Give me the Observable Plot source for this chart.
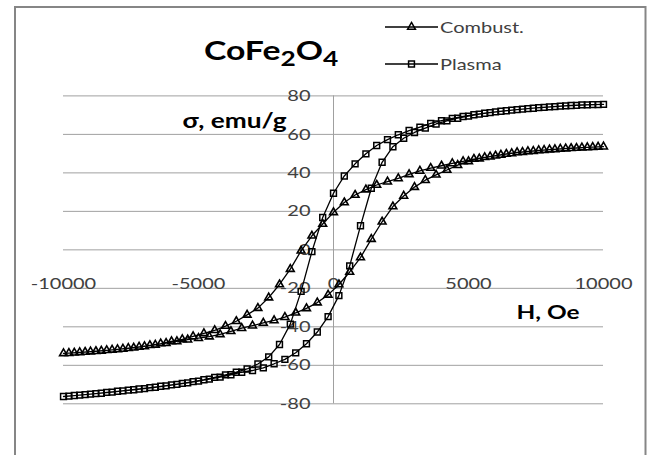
<!DOCTYPE html>
<html><head><meta charset="utf-8">
<script src="https://cdn.jsdelivr.net/npm/d3@7"></script>
<script src="https://cdn.jsdelivr.net/npm/@observablehq/plot@0.6"></script>
<style>
html,body{margin:0;padding:0;background:#fff;overflow:hidden;}
#wrap{position:relative;width:648px;height:455px;overflow:hidden;}
</style>
</head><body><div id="wrap"></div>
<script>
// ---- data ----
const seriesNames = ["Combust.", "Plasma"];
const xTicks = [-10000, -5000, 0, 5000, 10000];
const yTicks = [-80, -60, -40, -20, 0, 20, 40, 60, 80];

// descending branch (field swept from +10000 to -10000), Oe
const upperH = [10000,9600,9200,8800,8400,8000,7600,7200,6800,6400,6000,5600,5200,4800,4400,4000,3600,3200,2800,2400,2000,1600,1200,800,400,0,-400,-800,-1200,-1600,-2000,-2400,-2800,-3200,-3600,-4000,-4400,-4800,-5200,-5600,-6000,-6400,-6800,-7200,-7600,-8000,-8400,-8800,-9200,-9600,-10000];
// ascending branch (field swept from -10000 to +10000), Oe
const lowerH = [-9800,-9400,-9000,-8600,-8200,-7800,-7400,-7000,-6600,-6200,-5800,-5400,-5000,-4600,-4200,-3800,-3400,-3000,-2600,-2200,-1800,-1400,-1000,-600,-200,200,600,1000,1400,1800,2200,2600,3000,3400,3800,4200,4600,5000,5400,5800,6200,6600,7000,7400,7800,8200,8600,9000,9400,9800];

const combustUpper = [53.6,53.4,53.1,52.8,52.5,52.1,51.7,51.2,50.6,49.8,48.9,48.1,47.2,46.0,44.9,43.7,42.5,41.0,39.2,37.1,35.4,33.7,31.3,28.5,24.6,19.5,13.4,7.3,-0.5,-10.0,-18.0,-24.8,-30.3,-33.8,-37.1,-39.6,-41.8,-43.4,-45.0,-46.5,-47.6,-48.7,-49.6,-50.4,-51.1,-51.7,-52.2,-52.7,-53.1,-53.5,-53.8];
const combustLower = [-53.7,-53.3,-52.9,-52.5,-52.0,-51.5,-50.9,-50.2,-49.4,-48.5,-47.6,-46.7,-45.9,-45.1,-43.9,-42.3,-40.7,-39.4,-38.0,-36.7,-35.0,-32.7,-30.4,-27.4,-23.4,-18.0,-11.5,-4.0,5.6,14.6,22.5,28.0,32.6,36.2,39.0,41.5,44.0,46.0,47.4,48.4,49.3,50.1,50.8,51.3,51.8,52.2,52.6,52.9,53.2,53.5];
const plasmaUpper = [75.6,75.5,75.3,75.0,74.7,74.3,73.9,73.4,72.9,72.3,71.7,71.0,70.2,69.3,68.3,67.1,65.7,63.8,62.0,59.8,57.3,54.2,49.9,44.7,38.4,29.4,16.8,-0.9,-21.6,-38.6,-49.2,-55.6,-59.3,-61.9,-63.6,-65.0,-66.3,-67.5,-68.5,-69.4,-70.2,-70.9,-71.6,-72.3,-72.9,-73.5,-74.1,-74.7,-75.2,-75.7,-76.2];
const plasmaLower = [-76.0,-75.5,-75.0,-74.5,-73.9,-73.3,-72.7,-72.1,-71.4,-70.7,-69.9,-69.1,-68.2,-67.2,-66.1,-64.9,-63.6,-62.7,-61.3,-59.2,-56.9,-53.5,-48.8,-42.7,-34.7,-23.8,-8.3,12.5,32.0,45.5,53.6,58.0,61.0,63.3,65.4,67.0,68.4,69.5,70.5,71.3,72.0,72.6,73.1,73.6,74.0,74.4,74.8,75.1,75.3,75.5];

// ---- table for the library ----
function loop(name, up, low) {
  return upperH.map((h, i) => ({series: name, H: h, s: up[i]}))
    .concat(lowerH.map((h, i) => ({series: name, H: h, s: low[i]})));
}
const combust = loop(seriesNames[0], combustUpper, combustLower);
const plasma = loop(seriesNames[1], plasmaUpper, plasmaLower);

const FONT = "Lato, 'Open Sans', sans-serif";
const STRETCH = 1.25;
const GRID = "#a0a0a0";
const LABEL = "#404040";

const chart = Plot.plot({
  width: 648, height: 455,
  marginLeft: 63, marginRight: 45, marginTop: 95.4, marginBottom: 51.7,
  x: {domain: [-10000, 10000], axis: null},
  y: {domain: [-80, 80], axis: null},
  style: {fontFamily: FONT, background: "transparent", overflow: "visible"},
  marks: [
    Plot.ruleY(yTicks, {x1: xTicks[0], x2: xTicks[xTicks.length - 1], stroke: GRID, strokeWidth: 1}),
    Plot.ruleX([0], {y1: yTicks[0], y2: yTicks[yTicks.length - 1], stroke: GRID, strokeWidth: 1}),
    Plot.text(yTicks, {x: 0, y: d => d, text: d => String(d), textAnchor: "end", dx: -23, fontSize: 16, fill: LABEL}),
    Plot.text(xTicks, {x: d => d, y: 0, text: d => String(d), textAnchor: "middle", dy: 34.5, fontSize: 16, fill: LABEL}),
    Plot.line(combust, {x: "H", y: "s", z: "series", stroke: "black", strokeWidth: 1.3}),
    Plot.line(plasma, {x: "H", y: "s", z: "series", stroke: "black", strokeWidth: 1.3}),
    Plot.dot(combust, {x: "H", y: "s", symbol: "triangle", r: 2.9, stroke: "black", strokeWidth: 1.6, fill: "none"}),
    Plot.dot(plasma, {x: "H", y: "s", symbol: "square", r: 3.3, stroke: "black", strokeWidth: 1.5, fill: "none"}),
    Plot.text(["σ, emu/g"], {frameAnchor: "top-left", textAnchor: "end", lineAnchor: "bottom", dx: 223, dy: 31.6, fontSize: 21, fontWeight: "bold", fill: "black"}),
    Plot.text(["H, Oe"], {frameAnchor: "top-right", textAnchor: "end", lineAnchor: "bottom", dx: -24, dy: 222.6, fontSize: 19.5, fontWeight: "bold", fill: "black"})
  ]
});

// horizontal stretch of text (the reference glyphs are wide)
chart.querySelectorAll("text").forEach(t => {
  const tr = t.getAttribute("transform");
  if (tr) t.setAttribute("transform", tr + ` scale(${STRETCH},1)`);
});

const svg = d3.select(chart);
// outer chart border
svg.insert("rect", ":first-child")
  .attr("x", 15).attr("y", 7).attr("width", 630.5).attr("height", 470)
  .attr("fill", "none").attr("stroke", "#868686").attr("stroke-width", 2);

// title CoFe2O4
const title = svg.append("text")
  .attr("transform", `translate(204,60) scale(${STRETCH},1)`)
  .attr("text-anchor", "start")
  .attr("font-family", FONT).attr("font-weight", "bold").attr("font-size", 27).attr("fill", "black");
title.append("tspan").text("CoFe");
title.append("tspan").attr("font-size", 21).attr("dy", 6).text("2");
title.append("tspan").attr("dy", -6).text("O");
title.append("tspan").attr("font-size", 21).attr("dy", 6).text("4");

// legend
const legend = [
  {name: seriesNames[0], symbol: d3.symbolTriangle, r: 2.9, y: 27},
  {name: seriesNames[1], symbol: d3.symbolSquare, r: 3.3, y: 64}
];
legend.forEach(l => {
  const g = svg.append("g");
  g.append("line").attr("x1", 385).attr("x2", 438).attr("y1", l.y).attr("y2", l.y)
    .attr("stroke", "black").attr("stroke-width", 1.3);
  g.append("path").attr("transform", `translate(411.5,${l.y})`)
    .attr("d", d3.symbol(l.symbol, l.r * l.r * Math.PI)())
    .attr("fill", "none").attr("stroke", "black").attr("stroke-width", 1.5);
  g.append("text").attr("transform", `translate(440,${l.y}) scale(${STRETCH},1)`)
    .attr("text-anchor", "start")
    .attr("dy", "0.36em").attr("font-family", FONT).attr("font-size", 16).attr("fill", LABEL)
    .text(l.name);
});

document.getElementById("wrap").appendChild(chart);
</script>
</body></html>
